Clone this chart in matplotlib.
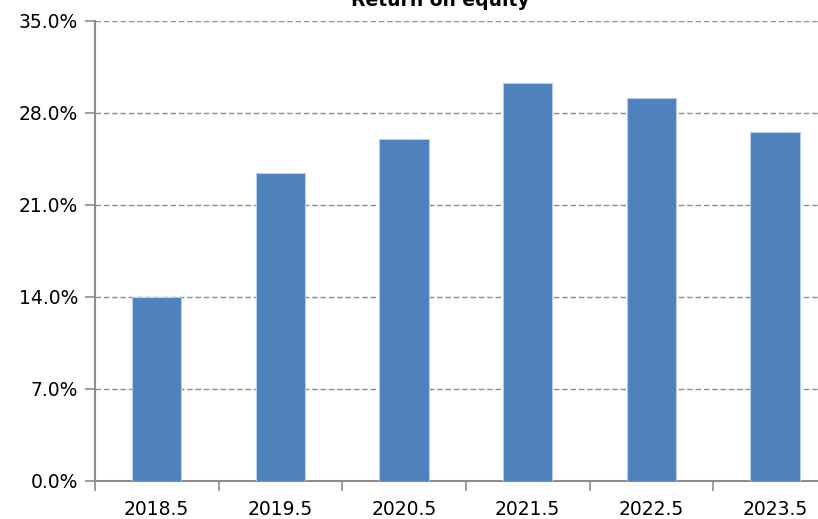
import matplotlib
matplotlib.use('Agg')
import matplotlib.pyplot as plt
from matplotlib.ticker import FuncFormatter, MultipleLocator
import numpy as np

plt.rcParams['font.family'] = ['DejaVu Sans']

# Данные
years = ['2018.5', '2019.5', '2020.5', '2021.5', '2022.5', '2023.5']
roe = [14.0, 23.4, 26.0, 30.3, 29.1, 26.5]

fig = plt.figure(figsize=(8.18, 5.19), dpi=100)
ax = fig.add_axes([0.116, 0.0738, 0.907, 0.8862])

x = np.arange(len(years))
ax.bar(x, roe, width=0.4, color='#4F81BD', edgecolor='#B9CDE5', linewidth=0.8, zorder=3)

ax.set_xlim(-0.5, 5.5)
ax.set_ylim(0, 35)
ax.yaxis.set_major_locator(MultipleLocator(7))
ax.yaxis.set_major_formatter(FuncFormatter(lambda v, p: f'{v:.1f}%'))
ax.grid(axis='y', color='#8C8C8C', linestyle=(0, (4, 2)), linewidth=1.0, zorder=0)

ax.set_xticks(x)
ax.set_xticklabels(years)
ax.set_xticks(np.arange(-0.5, 6, 1), minor=True)
ax.tick_params(axis='x', which='major', length=0, pad=14, labelsize=13.5)
ax.tick_params(axis='x', which='minor', length=7, width=1.2, color='#8C8C8C', direction='out')
ax.tick_params(axis='y', length=7, width=1.2, color='#8C8C8C', labelsize=13.5, pad=5)

for s in ['top', 'right']:
    ax.spines[s].set_visible(False)
for s in ['left', 'bottom']:
    ax.spines[s].set_color('#8C8C8C')
    ax.spines[s].set_linewidth(1.5)

# Заголовок (обрезан сверху, как в оригинале)
fig.text(0.538, 1.0, 'Return on equity', ha='center', va='center', fontsize=13.5, fontweight='bold')

plt.savefig('out.png', dpi=100)
